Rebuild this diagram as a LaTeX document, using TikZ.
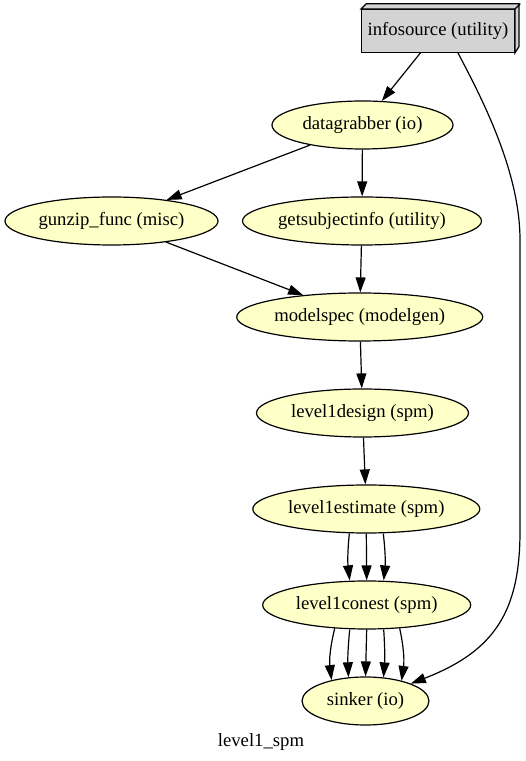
\documentclass[tikz,border=0pt]{standalone}
\usepackage{fontspec}
\setmainfont{Liberation Serif}
\usetikzlibrary{shapes.geometric,arrows.meta}
\definecolor{nodefill}{HTML}{FFFFC8}
\definecolor{boxfill}{HTML}{D3D3D3}

\begin{document}
\begin{tikzpicture}[
  x=1pt, y=1pt,
  font=\fontsize{18.7}{22}\selectfont,
  iface/.style={ellipse, draw, fill=nodefill, line width=1.2pt, inner sep=0pt, minimum height=48pt},
  srcbox/.style={rectangle, draw, fill=boxfill, line width=1.2pt, inner sep=0pt, minimum width=152.7pt, minimum height=42.7pt},
  edge/.style={draw, line width=1.2pt, -{Triangle[length=15pt,width=10pt]}},
]
\useasboundingbox (0,0) rectangle (526,761);

\node[srcbox] (info) at (438,730) {infosource (utility)};
\filldraw[fill=boxfill, line width=1.2pt] (info.north west) -- ++(5.3,5.3) -- ++(152.7,0) -- ++(0,-42.7)
  -- (info.south east) -- (info.north east) -- cycle;
\draw[line width=1.2pt] (info.north east) -- ++(5.3,5.3);

\node[iface, minimum width=181pt] (dg) at (362.5,636) {datagrabber (io)};
\node[iface, minimum width=213pt] (gz) at (111.5,540) {gunzip\_func (misc)};
\node[iface, minimum width=239pt] (gs) at (362,540) {getsubjectinfo (utility)};
\node[iface, minimum width=246pt] (ms) at (359.7,444) {modelspec (modelgen)};
\node[iface, minimum width=212pt] (design) at (362.5,348) {level1design (spm)};
\node[iface, minimum width=227pt] (estimate) at (366.3,252) {level1estimate (spm)};
\node[iface, minimum width=208pt] (conest) at (366.7,156) {level1conest (spm)};
\node[iface, minimum width=127pt] (sinker) at (365.5,60) {sinker (io)};
\node (title) at (261,19) {level1\_spm};

\coordinate (sideA) at (520,521);
\coordinate (sideB) at (520,230);

\draw[edge] (info) -- (dg);
\draw[edge] ([xshift=20pt]info.south) .. controls (480,666) and (520,591) .. (sideA)
  -- (sideB) .. controls (520,150) and (495,110) .. (sinker.21);
\draw[edge] (dg) -- (gz);
\draw[edge] (dg) -- (gs);
\draw[edge] (gz) -- (ms);
\draw[edge] (gs) -- (ms);
\draw[edge] (ms) -- (design);
\draw[edge] (design) -- (estimate);

\draw[edge] ([xshift=-17pt]estimate.south) to[bend right=6] ([xshift=-17pt]conest.north);
\draw[edge] (estimate.south) -- (conest.north);
\draw[edge] ([xshift=17pt]estimate.south) to[bend left=6] ([xshift=17pt]conest.north);

\draw[edge] ([xshift=-32pt,yshift=1.2pt]conest.south) to[bend right=10] ([xshift=-34pt,yshift=-3.7pt]sinker.north);
\draw[edge] ([xshift=-17pt]conest.south) to[bend right=4] ([xshift=-17pt,yshift=-0.9pt]sinker.north);
\draw[edge] (conest.south) -- (sinker.north);
\draw[edge] ([xshift=17pt]conest.south) to[bend left=4] ([xshift=18pt,yshift=-1pt]sinker.north);
\draw[edge] ([xshift=33pt,yshift=1.2pt]conest.south) to[bend left=10] ([xshift=36pt,yshift=-4.5pt]sinker.north);
\end{tikzpicture}
\end{document}
